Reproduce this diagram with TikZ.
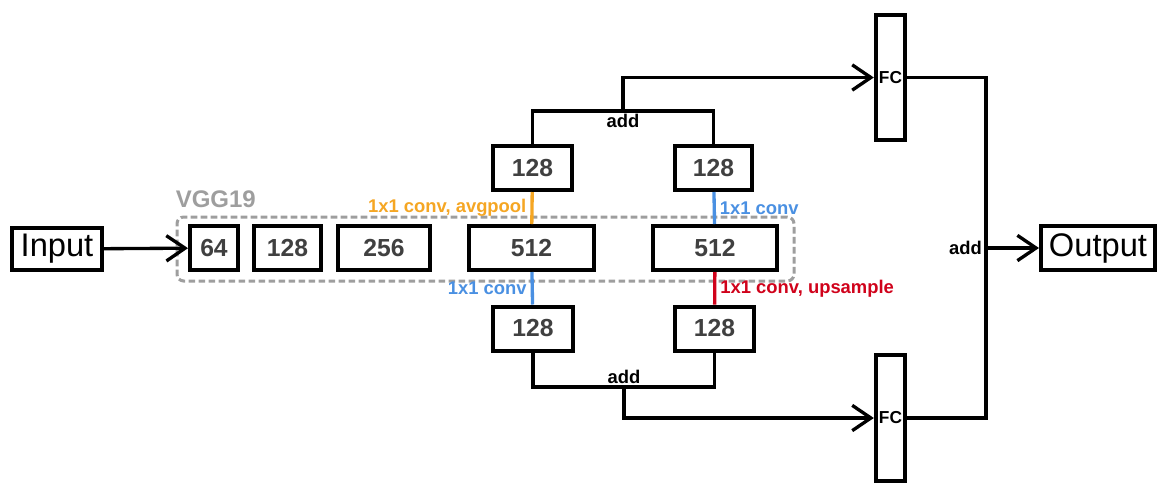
\documentclass[tikz,border=0pt]{standalone}
\usepackage{fontspec}
\setmainfont{Liberation Sans}
\definecolor{convOrange}{RGB}{245, 166, 35}
\definecolor{convBlue}{RGB}{74, 144, 226}
\definecolor{convRed}{RGB}{208, 2, 27}
\definecolor{vggGray}{RGB}{158, 158, 158}
\definecolor{numGray}{RGB}{64, 64, 64}
\usetikzlibrary{arrows.meta, positioning, calc}

\tikzset{
    layer/.style={draw, line width=3pt, fill=white, text=numGray, inner sep=0pt,
      minimum height=33pt, font=\fontsize{18.5}{21}\selectfont\bfseries},
    fcbox/.style={draw, line width=3pt, fill=white, inner sep=0pt,
      minimum width=22pt, minimum height=94pt, font=\fontsize{13}{15}\selectfont\bfseries},
    iobox/.style={draw, line width=3pt, fill=white, inner sep=0pt,
      minimum height=32pt, font=\fontsize{24.5}{28}\selectfont},
    conn/.style={line width=2.5pt},
    arr/.style={conn, -{Straight Barb[length=14pt, width=19pt]}},
    lbl/.style={font=\fontsize{13.8}{16}\selectfont\bfseries, inner sep=1pt},
}

\begin{document}
\begin{tikzpicture}[x=0.75pt, y=-0.75pt]
    \useasboundingbox (0,0) rectangle (1159,483);

    % VGG19 backbone
    \node[draw=vggGray, line width=2.25pt, rounded corners=5pt, dash pattern=on 5pt off 2.5pt,
      minimum width=462.75pt, minimum height=48pt] (vgg) at (485.5,249) {};
    \node[anchor=south west, inner sep=0pt, text=vggGray, font=\fontsize{18}{20}\selectfont\bfseries]
      (vggName) at ([yshift=6pt]vgg.north west) {VGG19};

    \node[iobox, minimum width=67.5pt] (input) at (57,249) {Input};
    \node[layer, minimum width=36pt] (b64) at (214,248) {64};
    \node[layer, minimum width=50pt] (b128) at (287.5,248) {128};
    \node[layer, minimum width=69pt] (b256) at (384,248) {256};
    \node[layer, minimum width=94pt] (b512a) at (531.5,248) {512};
    \node[layer, minimum width=93pt] (b512b) at (715,248) {512};

    % side branches
    \node[layer, minimum width=59pt] (t128a) at (532.5,168) {128};
    \node[layer, minimum width=58pt] (t128b) at (713.5,168) {128};
    \node[layer, minimum width=60pt] (d128a) at (533,328.5) {128};
    \node[layer, minimum width=59pt] (d128b) at (714.5,328.5) {128};

    \node[fcbox] (fcTop) at (890.5,77.5) {FC};
    \node[fcbox] (fcBot) at (890.5,418) {FC};
    \node[iobox, minimum width=85.5pt, minimum height=33pt] (output) at (1098,248) {Output};

    \draw[arr] (input) -- (b64);

    \draw[conn, convOrange] (b512a) -- (t128a)
      node[midway, left=2pt, lbl, text=convOrange] {1x1 conv, avgpool};
    \draw[conn, convBlue] (b512b) -- (t128b)
      node[midway, right=2pt, lbl, text=convBlue] {1x1 conv};
    \draw[conn, convBlue] (b512a) -- (d128a)
      node[midway, left=2pt, lbl, text=convBlue] {1x1 conv};
    \draw[conn, convRed] (b512b) -- (d128b)
      node[midway, right=2pt, lbl, text=convRed] {1x1 conv, upsample};

    % merges
    \coordinate (addTop) at (623,111);
    \coordinate (addBot) at (624,387);
    \coordinate (sumOut) at (986,248);

    \draw[conn] (t128a.north) |- (addTop) -| (t128b.north);
    \node[lbl, below=1pt of addTop] (addTopLbl) {add};
    \draw[arr] (addTop) |- (fcTop.west);

    \draw[conn] (d128a.south) |- (addBot) -| (d128b.south);
    \node[lbl, above=1pt of addBot] (addBotLbl) {add};
    \draw[arr] (addBot) |- (fcBot.west);

    \draw[conn] (fcTop.east) -| (sumOut) |- (fcBot.east);
    \node[lbl, left=2pt of sumOut] (sumLbl) {add};
    \draw[arr] (sumOut) -- (output);
\end{tikzpicture}
\end{document}
